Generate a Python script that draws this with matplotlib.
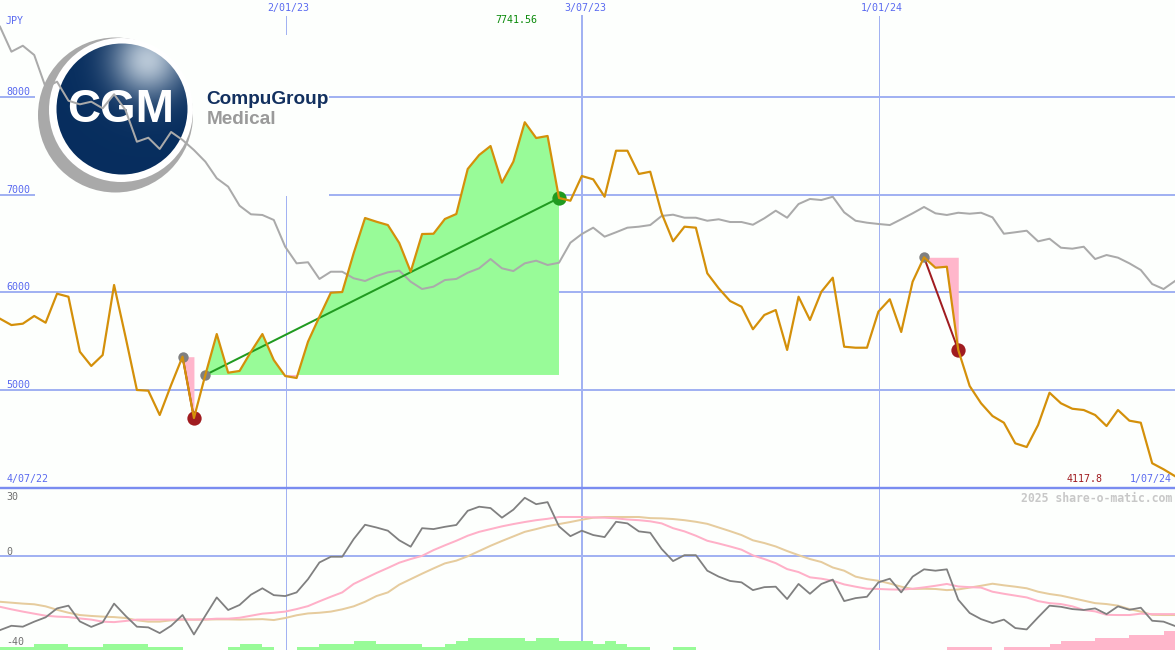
import numpy as np
import matplotlib
matplotlib.use('Agg')
import matplotlib.pyplot as plt
from matplotlib.patches import Circle, Rectangle

# weekly closes, JPY
price = [5730, 5665, 5679, 5758, 5689, 5986, 5955, 5392, 5246, 5358,
         6075, 5546, 5000, 4993, 4744, 5051, 5341, 4713, 5154, 5573,
         5177, 5195, 5392, 5573, 5307, 5143, 5123, 5495, 5750, 5996,
         6003, 6400, 6761, 6723, 6689, 6505, 6211, 6597, 6600, 6751,
         6802, 7263, 7406, 7498, 7123, 7338, 7741.56, 7580, 7601, 6966,
         6938, 7191, 7157, 6979, 7450, 7450, 7212, 7235, 6809, 6523,
         6672, 6662, 6195, 6041, 5911, 5853, 5622, 5768, 5819, 5410,
         5955, 5717, 6006, 6150, 5443, 5433, 5433, 5802, 5929, 5594,
         6109, 6359, 6252, 6262, 5410, 5041, 4864, 4734, 4665, 4454,
         4416, 4642, 4972, 4864, 4808, 4795, 4744, 4631, 4795, 4686,
         4665, 4250, 4188, 4117.8]

# index line, scaled to the price axis
index_line = [8720, 8464, 8525, 8430, 8099, 8157, 7962, 7925, 7952, 7884,
              8028, 7867, 7542, 7583, 7468, 7642, 7560, 7457, 7338, 7168,
              7082, 6887, 6799, 6792, 6741, 6467, 6297, 6308, 6137, 6211,
              6211, 6144, 6116, 6167, 6205, 6222, 6109, 6034, 6058, 6126,
              6137, 6201, 6246, 6341, 6246, 6218, 6297, 6324, 6280, 6303,
              6508, 6597, 6662, 6570, 6615, 6662, 6672, 6689, 6782, 6795,
              6764, 6764, 6733, 6748, 6720, 6720, 6692, 6758, 6836, 6764,
              6904, 6956, 6945, 6979, 6819, 6733, 6713, 6700, 6689, 6748,
              6809, 6874, 6809, 6792, 6815, 6805, 6815, 6768, 6600, 6615,
              6631, 6522, 6549, 6457, 6447, 6467, 6341, 6382, 6355, 6297,
              6229, 6085, 6034, 6116]

momentum = [-32.4, -30.5, -30.9, -28.7, -26.8, -22.9, -21.7, -28.6, -31.0, -29.0,
            -20.8, -26.1, -30.9, -31.2, -33.7, -30.5, -25.8, -34.3, -26.1, -18.1,
            -23.6, -21.4, -16.9, -14.1, -17.1, -17.5, -15.9, -10.1, -2.8, -0.3,
            -0.3, 7.4, 13.7, 12.5, 11.1, 6.9, 4.1, 12.2, 11.8, 12.8,
            13.6, 19.8, 21.6, 21.0, 16.8, 20.3, 25.5, 22.7, 23.6, 13.0,
            8.7, 11.1, 9.2, 8.3, 15.0, 14.3, 10.8, 10.2, 3.1, -2.2,
            0.4, 0.4, -6.4, -9.0, -10.9, -11.5, -14.9, -13.6, -13.4, -18.8,
            -12.2, -16.5, -12.2, -10.3, -19.7, -18.4, -17.8, -11.5, -9.9, -15.9,
            -9.0, -5.8, -6.4, -5.8, -19.1, -24.9, -27.6, -29.3, -27.8, -31.5,
            -32.1, -26.8, -21.7, -22.2, -23.2, -23.6, -22.9, -25.4, -22.0, -23.5,
            -22.6, -28.3, -28.7, -30.6]

mom_fast = [-22.2, -23.3, -24.3, -25.2, -26.1, -26.5, -26.7, -27.3, -27.8, -28.7,
            -28.9, -28.4, -27.8, -27.8, -27.8, -27.8, -27.7, -27.8, -27.7, -27.4,
            -27.4, -27.0, -26.1, -25.2, -24.8, -24.3, -23.2, -21.9, -19.8, -17.8,
            -15.9, -12.2, -9.8, -7.4, -5.2, -2.9, -1.3, 0.1, 2.6, 4.7,
            6.7, 8.9, 10.6, 11.8, 13.0, 14.0, 14.9, 15.7, 16.3, 17.1,
            17.1, 17.1, 16.9, 16.8, 16.5, 16.0, 15.7, 15.2, 14.3, 12.2,
            10.8, 8.9, 6.7, 5.5, 4.2, 2.8, 0.3, -1.3, -3.1, -5.7,
            -7.0, -9.3, -9.9, -10.8, -12.4, -13.4, -14.3, -14.4, -14.6, -14.7,
            -14.3, -13.7, -13.0, -12.2, -13.3, -13.6, -13.8, -15.6, -16.5, -17.3,
            -18.1, -19.7, -20.6, -21.0, -22.0, -23.6, -24.2, -25.7, -25.8, -25.8,
            -25.2, -25.4, -25.4, -25.4]

mom_slow = [-20.0, -20.4, -20.8, -21.1, -22.0, -23.5, -24.8, -25.8, -26.2, -26.5,
            -26.7, -27.1, -28.1, -28.7, -28.7, -28.1, -27.8, -27.8, -27.8, -27.7,
            -27.7, -27.8, -27.7, -27.6, -28.0, -27.1, -25.9, -25.1, -24.8, -24.3,
            -23.3, -22.0, -20.0, -17.5, -15.9, -12.5, -10.1, -7.7, -5.4, -3.2,
            -2.0, -0.1, 2.2, 4.5, 6.6, 8.6, 10.6, 11.8, 13.1, 14.0,
            14.9, 15.9, 16.8, 17.1, 17.1, 17.1, 17.1, 16.6, 16.5, 16.2,
            15.7, 15.0, 14.1, 12.5, 10.9, 9.2, 6.9, 5.7, 4.2, 2.2,
            0.4, -1.3, -2.6, -5.0, -6.4, -9.0, -10.1, -10.8, -12.0, -13.4,
            -14.4, -14.3, -14.4, -14.9, -14.6, -13.8, -13.0, -12.1, -12.8, -13.4,
            -14.1, -15.6, -16.6, -17.3, -18.4, -19.5, -20.6, -21.0, -21.7, -23.2,
            -24.3, -25.7, -25.8, -25.8]

# bottom histogram, sign picks the colour
hist = [1.3, 1.3, 1.3, 2.8, 2.8, 2.8, 1.3, 1.3, 1.3, 2.8,
        2.8, 2.8, 2.8, 1.3, 1.3, 1.3, 0, 0, 0, 0,
        1.3, 2.8, 2.8, 1.3, 0, 0, 1.3, 1.3, 2.8, 2.8,
        2.8, 3.9, 3.9, 2.8, 2.8, 2.8, 2.8, 1.3, 1.3, 2.8,
        3.9, 5.2, 5.2, 5.2, 5.2, 5.2, 3.9, 5.2, 5.2, 3.9,
        3.9, 3.9, 2.8, 3.9, 2.8, 1.3, 1.3, 0, 0, 1.3,
        1.3, 0, 0, 0, 0, 0, 0, 0, 0, 0,
        0, 0, 0, 0, 0, 0, 0, 0, 0, 0,
        0, 0, 0, -1.3, -1.3, -1.3, -1.3, 0, -1.3, -1.3,
        -1.3, -1.3, -2.8, -3.9, -3.9, -3.9, -5.2, -5.2, -5.2, -6.7,
        -6.7, -6.7, -8.3, -8.3]

price_levels = [5000, 6000, 7000, 8000]
date_weeks = [25, 51, 77]
date_labels = ['2/01/23', '3/07/23', '1/01/24']
date_widths = [1, 2, 1]

# trades as (buy week, sell week)
trades = [(16, 17), (18, 49), (81, 84)]

BG = '#fdfffd'
GRID = '#a2b2f2'
BLUE = '#5a6af0'
GREEN = '#98fb98'
PINK = '#ffb6cb'
DKRED = '#a01c20'
DKGREEN = '#209a20'
PX = 0.72

weeks = np.arange(len(price))
price = np.array(price)
hist = np.array(hist)
split = 487.5
top_rect = [0, 1 - split / 650, 1, split / 650]
bot_rect = [0, 0, 1, 1 - split / 650]
price_lim = (4001.7, 8993.2)
mom_lim = (-41.1, 30)

fig = plt.figure(figsize=(11.75, 6.5), dpi=100, facecolor=BG)
plt.rcParams['font.family'] = 'DejaVu Sans Mono'

# grid goes underneath the logo, the lines go on top of it
ax_grid = fig.add_axes(top_rect, zorder=1)
ax_logo = fig.add_axes([0, 0, 1, 1], zorder=2)
ax = fig.add_axes(top_rect, zorder=3)
ax2 = fig.add_axes(bot_rect, zorder=4)

for a in (ax_grid, ax):
    a.set_xlim(0, 103)
    a.set_ylim(*price_lim)
    a.axis('off')
ax2.set_xlim(0, 103)
ax2.set_ylim(*mom_lim)
ax2.axis('off')

for lev in price_levels:
    ax_grid.axhline(lev, color=GRID, lw=2 * PX)
for w, wd in zip(date_weeks, date_widths):
    ax_grid.axvline(w + 0.05, ymax=0.967, color=GRID, lw=wd * PX)
    ax2.axvline(w + 0.05, color=GRID, lw=wd * PX, zorder=1)

# logo
ax_logo.set_xlim(0, 1175)
ax_logo.set_ylim(650, 0)
ax_logo.axis('off')
ax_logo.add_patch(Rectangle((35, 35), 294, 161, color=BG, lw=0))
ax_logo.add_patch(Circle((115.5, 115), 77.5, color='#a9a9a9', lw=0))
ax_logo.add_patch(Circle((121, 110), 72, color='white', lw=0))
gx, gy = np.meshgrid(np.linspace(56, 188, 200), np.linspace(42, 176, 200))
glow = np.exp(-((gx - 148) ** 2 + (gy - 60) ** 2) / 1300.0)
navy = np.array([0.03, 0.18, 0.37])
light = np.array([0.72, 0.78, 0.84])
shade = navy + (light - navy) * glow[..., None]
im = ax_logo.imshow(shade, extent=(56, 188, 176, 42), aspect='auto', zorder=2)
im.set_clip_path(Circle((122, 109), 65.5, transform=ax_logo.transData))
ax_logo.set_xlim(0, 1175)
ax_logo.set_ylim(650, 0)
ax_logo.text(120.5, 110, 'CGM', color='white', fontsize=33, fontweight='bold',
             family='Liberation Sans', ha='center', va='center', zorder=3)
ax_logo.text(206, 100, 'CompuGroup', color='#12305f', fontsize=13.7, fontweight='bold',
             family='Liberation Sans', ha='left', va='center', zorder=3)
ax_logo.text(207, 120, 'Medical', color='#9a9a9a', fontsize=13.7, fontweight='bold',
             family='Liberation Sans', ha='left', va='center', zorder=3)

# trade shading, gain green, loss pink
for buy, sell in trades:
    xs = weeks[buy:sell + 1]
    ys = price[buy:sell + 1]
    ax.fill_between(xs, ys, price[buy], where=ys >= price[buy], interpolate=True,
                    color=GREEN, lw=0, zorder=2)
    ax.fill_between(xs, ys, price[buy], where=ys <= price[buy], interpolate=True,
                    color=PINK, lw=0, zorder=2)
    col = DKGREEN if price[sell] > price[buy] else DKRED
    ax.plot([buy, sell], [price[buy], price[sell]], color=col, lw=2 * PX, zorder=4)
    ax.plot(buy, price[buy], 'o', color='#808080', ms=8 * PX * 1.3, mew=0, zorder=4)
    ax.plot(sell, price[sell], 'o', color=col, ms=11 * PX * 1.3, mew=0, zorder=4)

ax.plot(weeks, index_line, color='#aaaaaa', lw=2 * PX, zorder=3)
ax.plot(weeks, price, color='#d4900a', lw=2.2 * PX, zorder=5)

# price axis text
for lev in price_levels:
    ax.annotate(str(lev), (0, lev), xytext=(4.3, 0), textcoords='offset points',
                color=BLUE, fontsize=7.2, va='bottom', ha='left')
tr = ax.get_xaxis_transform()
ax.annotate('JPY', (0, 1), xycoords=tr, xytext=(4.3, -11.5), textcoords='offset points',
            color=BLUE, fontsize=7.2, va='top')
for w, lab in zip(date_weeks, date_labels):
    ax.annotate(lab, (w, 1), xycoords=tr, xytext=(2.5, -2.5), textcoords='offset points',
                color=BLUE, fontsize=7.2, va='top', ha='center')
ax.annotate('4/07/22', (0, 0), xycoords=tr, xytext=(5, 2.5), textcoords='offset points',
            color=BLUE, fontsize=7.2, va='bottom')
ax.annotate('1/07/24', (103, 0), xycoords=tr, xytext=(-2, 2.5), textcoords='offset points',
            color=BLUE, fontsize=7.2, va='bottom', ha='right')
ax.annotate('4117.8', (weeks[-1], 0), xycoords=tr, xytext=(-52, 2.5), textcoords='offset points',
            color=DKRED, fontsize=7.2, va='bottom', ha='right')
ax.annotate('7741.56', (46, 1), xycoords=tr, xytext=(-21.5, -11), textcoords='offset points',
            color='#0a8a0a', fontsize=7.2, va='top', ha='left')

# momentum panel
ax2.axhline(30, color='#7a8cf0', lw=2.4 * PX, clip_on=False, zorder=5)
ax2.axhline(0, color=GRID, lw=2 * PX, zorder=1)
bar_cols = [GREEN if v > 0 else PINK for v in hist]
ax2.bar(weeks, np.abs(hist), width=1, bottom=mom_lim[0], align='edge', color=bar_cols, lw=0, zorder=2)
ax2.plot(weeks, mom_slow, color='#e6cc9e', lw=2 * PX, zorder=3)
ax2.plot(weeks, mom_fast, color='#ffb0c8', lw=2 * PX, zorder=3)
ax2.plot(weeks, momentum, color='#808080', lw=1.8 * PX, zorder=4)
for val, lab, off in [(30, '30', -3), (0, '0', -1), (-40, '-40', 0)]:
    ax2.annotate(lab, (0, val), xytext=(4.3, off), textcoords='offset points',
                 color='#707070', fontsize=7.2, va='top' if val == 30 else 'bottom')
ax2.annotate('2025 share-o-matic.com', (103, 30), xytext=(-2, -3), textcoords='offset points',
             color='#c8c8c8', fontsize=8.3, fontweight='bold', va='top', ha='right')

fig.savefig('out.png', dpi=100, facecolor=BG)
